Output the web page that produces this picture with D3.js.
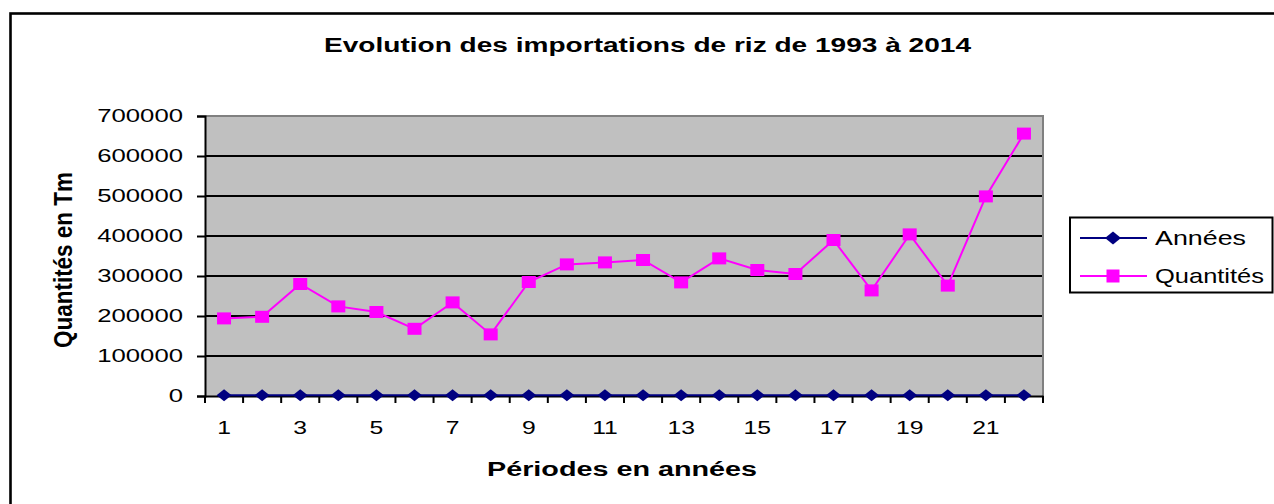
<!DOCTYPE html>
<html><head><meta charset="utf-8">
<script src="https://cdn.jsdelivr.net/npm/d3@7/dist/d3.min.js"></script>
<style>
body{margin:0;background:#fff}
svg{display:block}
text{font-family:"Liberation Sans",Arial,sans-serif;fill:#000}
</style>
</head><body>
<svg id="c" width="1274" height="504"></svg>
<script>
// ---- data ----
const periods = [1,2,3,4,5,6,7,8,9,10,11,12,13,14,15,16,17,18,19,20,21,22];
const annees = [1993,1994,1995,1996,1997,1998,1999,2000,2001,2002,2003,2004,2005,2006,2007,2008,2009,2010,2011,2012,2013,2014];
const quantites = [194000,198000,280000,224000,210000,168000,234000,154000,285000,329000,334000,340000,284000,344000,315000,305000,390000,264000,404000,276000,499000,656000];
const yTicks = [0,100000,200000,300000,400000,500000,600000,700000];
const xTickLabels = [1,3,5,7,9,11,13,15,17,19,21];
const seriesNames = ["Années","Quantités"];
const titleText = "Evolution des importations de riz de 1993 à 2014";
const xTitle = "Périodes en années";
const yTitle = "Quantités en Tm";

// ---- layout ----
const svg = d3.select("#c");
const L = 205, R = 1043, T = 116, B = 396;
const STRETCH = 1.39;

function stretch(sel, f){
  sel.each(function(){
    const len = this.getComputedTextLength();
    d3.select(this).attr("textLength", len*f).attr("lengthAdjust","spacingAndGlyphs");
  });
}

// outer frame
svg.append("rect").attr("x",10.5).attr("y",13.5).attr("width",1300).attr("height",600)
  .attr("fill","none").attr("stroke","#000").attr("stroke-width",2.6);

const x = d3.scaleBand().domain(periods).range([L,R]).padding(0);
const y = d3.scaleLinear().domain([0,700000]).range([B,T]);
const cx = d => x(d) + x.bandwidth()/2;

// plot background
svg.append("rect").attr("x",L).attr("y",T).attr("width",R-L).attr("height",B-T).attr("fill","#c0c0c0");

// gridlines
svg.append("g").selectAll("line").data(yTicks.filter(v=>v>0 && v<700000)).join("line")
  .attr("x1",L).attr("x2",R).attr("y1",d=>y(d)).attr("y2",d=>y(d))
  .attr("stroke","#000").attr("stroke-width",2);

// plot border top/right grey
svg.append("path").attr("d",`M${L},${y(700000)}H${R}V${B}`).attr("fill","none")
  .attr("stroke","#808080").attr("stroke-width",2);

// y axis
const yAxis = svg.append("g").attr("transform",`translate(${L},0)`)
  .call(d3.axisLeft(y).tickValues(yTicks).tickSize(8).tickPadding(14).tickFormat(d3.format("d")));
yAxis.select(".domain").attr("stroke","#000").attr("stroke-width",2);
yAxis.selectAll(".tick line").attr("stroke","#000").attr("stroke-width",2);
yAxis.selectAll("text").attr("font-size",18.5).attr("font-family","Liberation Sans, Arial, sans-serif").attr("fill","#000");
stretch(yAxis.selectAll("text"), STRETCH);

// x axis
const xAxis = svg.append("g").attr("transform",`translate(0,${B})`)
  .call(d3.axisBottom(x).tickSize(0).tickPadding(25).tickFormat(d => xTickLabels.includes(d) ? d : ""));
xAxis.select(".domain").attr("stroke","#000").attr("stroke-width",2);
xAxis.selectAll("text").attr("font-size",19).attr("font-family","Liberation Sans, Arial, sans-serif").attr("fill","#000");
stretch(xAxis.selectAll("text"), 1.3);
// boundary ticks
const bounds = periods.map(p => x(p)).concat([x(periods[periods.length-1]) + x.bandwidth()]);
svg.append("g").selectAll("line").data(bounds).join("line")
  .attr("x1",d=>d).attr("x2",d=>d).attr("y1",B).attr("y2",B+7)
  .attr("stroke","#000").attr("stroke-width",2);

// series
const line = d3.line();
const ptsA = periods.map((p,i)=>[cx(p), y(annees[i])]);
const ptsQ = periods.map((p,i)=>[cx(p), y(quantites[i])]);

svg.append("path").attr("d",line(ptsA)).attr("fill","none").attr("stroke","#000080").attr("stroke-width",2);
const diamond = (px,py,w,h)=>`M${px},${py-h/2}L${px+w/2},${py}L${px},${py+h/2}L${px-w/2},${py}Z`;
svg.append("g").selectAll("path").data(ptsA).join("path")
  .attr("d",d=>diamond(d[0],d[1],15,12)).attr("fill","#000080");

svg.append("path").attr("d",line(ptsQ)).attr("fill","none").attr("stroke","#ff00ff").attr("stroke-width",2);
svg.append("g").selectAll("rect").data(ptsQ).join("rect")
  .attr("x",d=>d[0]-7).attr("y",d=>d[1]-6).attr("width",14).attr("height",12).attr("fill","#ff00ff");

// title
svg.append("text").attr("x",647.5).attr("y",52).attr("text-anchor","middle")
  .attr("font-size",20).attr("font-weight","bold").text(titleText)
  .attr("textLength",647).attr("lengthAdjust","spacingAndGlyphs");

// x title
svg.append("text").attr("x",622).attr("y",476).attr("text-anchor","middle")
  .attr("font-size",20).attr("font-weight","bold").text(xTitle)
  .attr("textLength",270).attr("lengthAdjust","spacingAndGlyphs");

// y title
svg.append("text").attr("transform","translate(72,260) scale(1.3,1) rotate(-90)")
  .attr("text-anchor","middle").attr("font-size",20).attr("font-weight","bold").text(yTitle)
  .attr("textLength",176).attr("lengthAdjust","spacingAndGlyphs");

// legend
const lg = svg.append("g");
lg.append("rect").attr("x",1070).attr("y",217.5).attr("width",202.5).attr("height",75)
  .attr("fill","#fff").attr("stroke","#000").attr("stroke-width",2);
const legY = [238, 276];
const legW = [91, 109];
seriesNames.forEach((name,i)=>{
  const yy = legY[i];
  lg.append("line").attr("x1",1080).attr("x2",1147).attr("y1",yy).attr("y2",yy)
    .attr("stroke", i===0 ? "#000080" : "#ff00ff").attr("stroke-width",2);
  if(i===0){
    lg.append("path").attr("d",diamond(1113,yy,16,13)).attr("fill","#000080");
  } else {
    lg.append("rect").attr("x",1113-6.5).attr("y",yy-6.5).attr("width",13).attr("height",13).attr("fill","#ff00ff");
  }
  lg.append("text").attr("x",1155).attr("y",yy+7).attr("font-size",21).text(name)
    .attr("textLength",legW[i]).attr("lengthAdjust","spacingAndGlyphs");
});
</script>
</body></html>
